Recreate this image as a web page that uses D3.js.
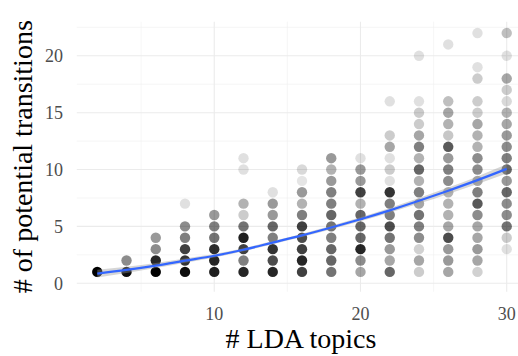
<!DOCTYPE html>
<html>
<head>
<meta charset="utf-8">
<script src="https://cdn.jsdelivr.net/npm/d3@7"></script>
<style>
  body { margin: 0; background: #fff; }
  svg { display: block; font-family: "Liberation Serif", "DejaVu Serif", serif; }
</style>
</head>
<body>
<svg width="518" height="356"></svg>
<script>
const svg = d3.select('svg');

// topics on the x axis
const topics = [2, 4, 6, 8, 10, 12, 14, 16, 18, 20, 22, 24, 26, 28, 30];

// for each topic count: [transitions, darkness of the stacked dots]
const cells = [
    [[1, 1.0]],
    [[1, 0.95], [2, 0.45]],
    [[1, 1.0], [2, 0.85], [3, 0.45], [4, 0.4]],
    [[1, 0.95], [2, 0.8], [3, 0.75], [4, 0.5], [5, 0.45], [7, 0.12]],
    [[1, 0.88], [2, 0.85], [3, 0.82], [4, 0.55], [5, 0.5], [6, 0.4]],
    [[1, 0.85], [2, 0.5], [3, 0.75], [4, 0.88], [5, 0.55], [6, 0.2], [7, 0.3], [10, 0.12], [11, 0.12]],
    [[1, 0.85], [2, 0.7], [3, 0.8], [4, 0.5], [5, 0.6], [6, 0.4], [7, 0.4], [8, 0.12]],
    [[1, 0.75], [2, 0.85], [3, 0.75], [4, 0.7], [5, 0.75], [6, 0.5], [7, 0.3], [8, 0.4], [9, 0.1], [10, 0.15]],
    [[1, 0.55], [2, 0.6], [3, 0.6], [4, 0.5], [5, 0.55], [6, 0.6], [7, 0.5], [8, 0.5], [9, 0.4], [10, 0.3], [11, 0.4]],
    [[1, 0.35], [2, 0.45], [3, 0.85], [4, 0.6], [5, 0.6], [6, 0.6], [7, 0.3], [8, 0.75], [9, 0.4], [10, 0.4], [11, 0.12]],
    [[1, 0.6], [2, 0.35], [3, 0.4], [4, 0.55], [5, 0.7], [6, 0.5], [7, 0.5], [8, 0.8], [9, 0.12], [10, 0.2], [11, 0.12], [12, 0.35], [13, 0.2], [16, 0.12]],
    [[1, 0.2], [2, 0.35], [3, 0.18], [4, 0.45], [5, 0.5], [6, 0.55], [7, 0.35], [8, 0.5], [9, 0.3], [10, 0.6], [11, 0.3], [12, 0.5], [13, 0.35], [14, 0.2], [15, 0.2], [16, 0.12], [20, 0.12]],
    [[1, 0.35], [2, 0.4], [3, 0.4], [4, 0.7], [5, 0.35], [6, 0.3], [7, 0.3], [8, 0.3], [9, 0.45], [10, 0.5], [11, 0.4], [12, 0.65], [13, 0.22], [14, 0.3], [15, 0.35], [16, 0.25], [21, 0.12]],
    [[1, 0.18], [2, 0.35], [3, 0.4], [4, 0.35], [5, 0.35], [6, 0.45], [7, 0.65], [8, 0.5], [9, 0.35], [10, 0.45], [11, 0.45], [12, 0.3], [13, 0.3], [14, 0.35], [15, 0.2], [16, 0.2], [18, 0.2], [19, 0.12], [22, 0.12]],
    [[3, 0.12], [4, 0.2], [5, 0.55], [6, 0.45], [7, 0.45], [8, 0.6], [9, 0.4], [10, 0.6], [11, 0.5], [12, 0.45], [13, 0.4], [14, 0.35], [15, 0.3], [16, 0.15], [17, 0.2], [18, 0.35], [20, 0.12], [22, 0.25]]
];

// smoothed trend, with its band half-width
const trend = [0.85, 1.18, 1.56, 1.99, 2.42, 2.95, 3.58, 4.21, 4.9, 5.63, 6.41, 7.25, 8.14, 9.07, 10.06];
const band = [0.35, 0.28, 0.22, 0.18, 0.15, 0.14, 0.14, 0.14, 0.15, 0.17, 0.2, 0.24, 0.28, 0.33, 0.4];

const xTicks = [10, 20, 30];
const xMinor = [5, 15, 25];
const yTicks = [0, 5, 10, 15, 20];
const yMinor = [2.5, 7.5, 12.5, 17.5, 22.5];

const x = d3.scaleLinear().domain([0.6, 31.4]).range([76.8, 527.2]);
const y = d3.scaleLinear().domain([-0.74, 23.0]).range([291.7, 21.7]);

const [x0, x1] = x.range();
const [y0, y1] = y.range();

const grid = svg.append('g');
grid.selectAll('.vmin').data(xMinor).enter().append('line')
    .attr('x1', d => x(d)).attr('x2', d => x(d))
    .attr('y1', y0).attr('y2', y1)
    .attr('stroke', '#f0f0f0').attr('stroke-width', 0.6);
grid.selectAll('.hmin').data(yMinor).enter().append('line')
    .attr('y1', d => y(d)).attr('y2', d => y(d))
    .attr('x1', x0).attr('x2', x1)
    .attr('stroke', '#f0f0f0').attr('stroke-width', 0.6);
grid.selectAll('.vmaj').data(xTicks).enter().append('line')
    .attr('x1', d => x(d)).attr('x2', d => x(d))
    .attr('y1', y0).attr('y2', y1)
    .attr('stroke', '#ebebeb').attr('stroke-width', 1.1);
grid.selectAll('.hmaj').data(yTicks).enter().append('line')
    .attr('y1', d => y(d)).attr('y2', d => y(d))
    .attr('x1', x0).attr('x2', x1)
    .attr('stroke', '#ebebeb').attr('stroke-width', 1.1);

// points
const points = [];
topics.forEach((t, i) => cells[i].forEach(([v, a]) => points.push({ t, v, a })));

svg.append('g').selectAll('circle').data(points).enter().append('circle')
    .attr('cx', d => x(d.t))
    .attr('cy', d => y(d.v))
    .attr('r', 5.2)
    .attr('fill', '#000')
    .attr('fill-opacity', d => d.a);

// smoother
const smooth = topics.map((t, i) => ({ t, v: trend[i], se: band[i] }));

svg.append('path')
    .datum(smooth)
    .attr('d', d3.area()
        .x(d => x(d.t))
        .y0(d => y(d.v - d.se))
        .y1(d => y(d.v + d.se))
        .curve(d3.curveMonotoneX))
    .attr('fill', '#999999')
    .attr('fill-opacity', 0.4);

svg.append('path')
    .datum(smooth)
    .attr('d', d3.line()
        .x(d => x(d.t))
        .y(d => y(d.v))
        .curve(d3.curveMonotoneX))
    .attr('fill', 'none')
    .attr('stroke', '#3366FF')
    .attr('stroke-width', 2.2);

// tick labels
svg.append('g').selectAll('text').data(xTicks).enter().append('text')
    .attr('x', d => x(d))
    .attr('y', 320)
    .attr('text-anchor', 'middle')
    .attr('font-size', 18)
    .attr('fill', '#4d4d4d')
    .text(d => d);

svg.append('g').selectAll('text').data(yTicks).enter().append('text')
    .attr('x', 63)
    .attr('y', d => y(d))
    .attr('dy', '0.35em')
    .attr('text-anchor', 'end')
    .attr('font-size', 18)
    .attr('fill', '#4d4d4d')
    .text(d => d);

// axis titles
svg.append('text')
    .attr('x', 301)
    .attr('y', 348)
    .attr('text-anchor', 'middle')
    .attr('font-size', 28)
    .attr('fill', '#000')
    .text('# LDA topics');

svg.append('text')
    .attr('transform', `translate(32,${(y0 + y1) / 2}) rotate(-90)`)
    .attr('text-anchor', 'middle')
    .attr('font-size', 28)
    .attr('fill', '#000')
    .text('# of potential transitions');
</script>
</body>
</html>
